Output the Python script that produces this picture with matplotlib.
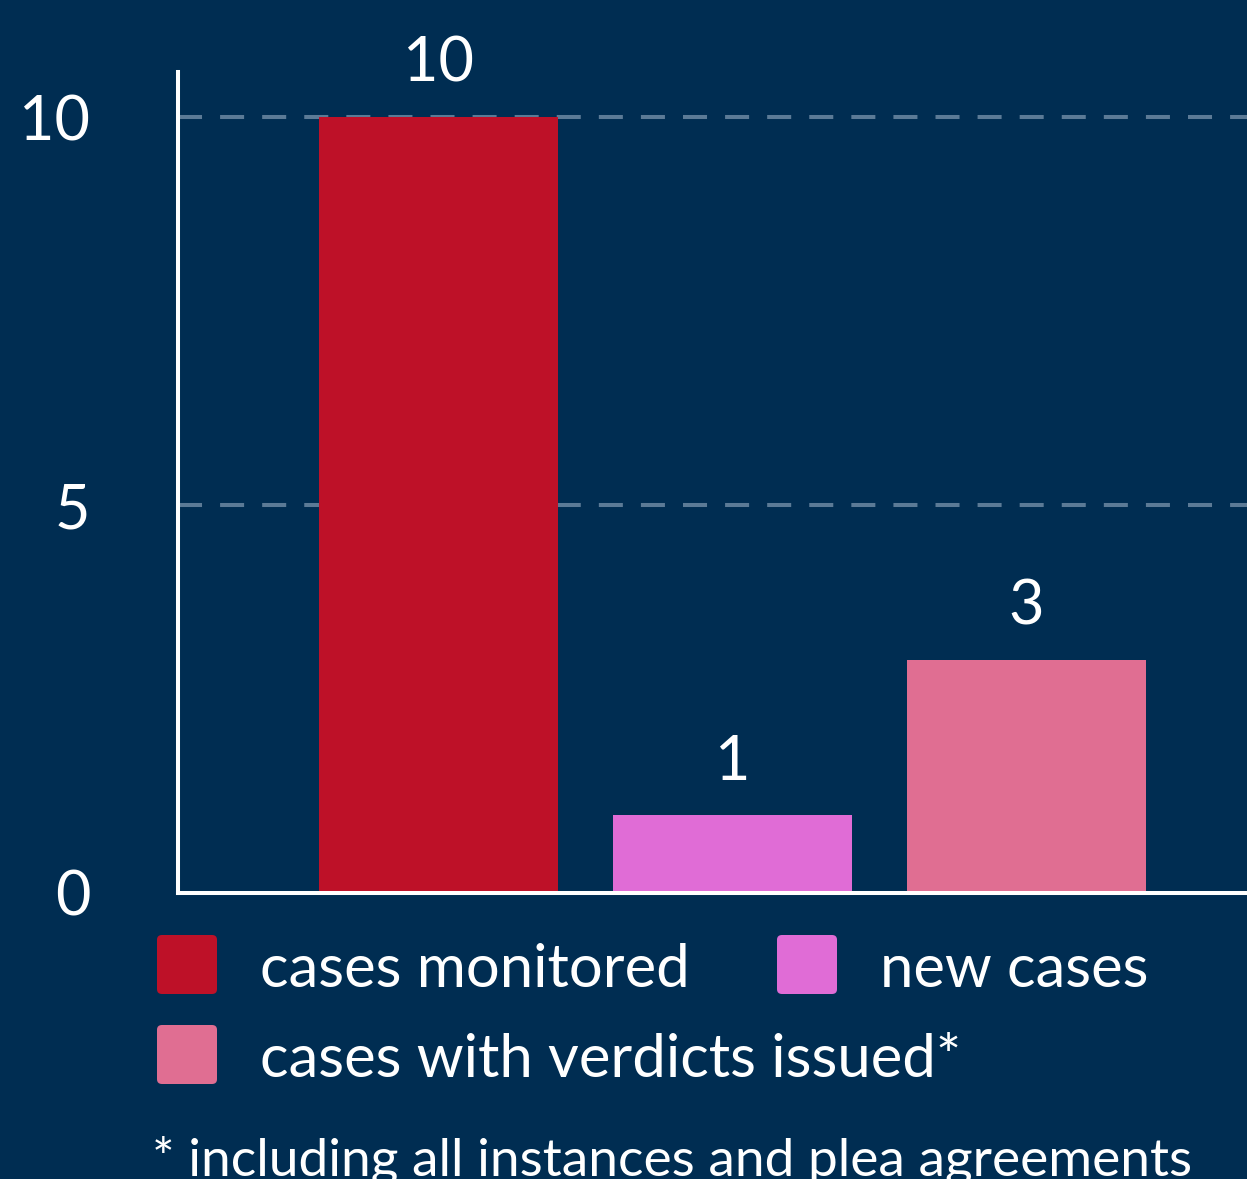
import matplotlib
matplotlib.use("Agg")
import matplotlib.pyplot as plt
from matplotlib.patches import FancyBboxPatch

categories = ["cases monitored", "new cases", "cases with verdicts issued*"]
values = [10, 1, 3]
colors = ["#BE1128", "#E06CD6", "#E06E92"]
yticks = [0, 5, 10]
footnote = "* including all instances and plea agreements"

BG = "#002D52"
W, H = 1247, 1179
plt.rcParams['font.family'] = ['Lato', 'DejaVu Sans']
plt.rcParams['lines.scale_dashes'] = False

fig = plt.figure(figsize=(W / 100, H / 100), dpi=100, facecolor=BG)
ax = fig.add_axes([178 / W, (H - 893) / H, 1 - 178 / W, (893 - 72) / H])
ax.set_facecolor(BG)

x = list(range(len(values)))
bars = ax.bar(x, values, width=0.813, color=colors, zorder=2)
ax.set_xlim(-0.886, 2.75)
ax.set_ylim(0.04, 10.58)

for xi, v in zip(x, values):
    ax.annotate(str(v), (xi, v), xytext=(0, 38), textcoords="offset points",
                ha="center", va="center", color="white", fontsize=44)

ax.set_yticks(yticks)
ax.set_yticklabels([str(t) for t in yticks])
ax.tick_params(axis="y", length=0, pad=63, labelsize=44, labelcolor="white")
ax.set_xticks([])
for t in yticks[1:]:
    ax.axhline(t, color="#5B7A96", lw=2.9, linestyle=(0, (17.3, 13)), zorder=1)

for s in ["top", "right"]:
    ax.spines[s].set_visible(False)
for s in ["left", "bottom"]:
    ax.spines[s].set_color("white")
    ax.spines[s].set_linewidth(2.9)

# legend
pos = [(157, 935, 260), (777, 935, 880), (157, 1025, 260)]
for (px, py, tx), lab, c in zip(pos, categories, colors):
    p = FancyBboxPatch((px / W, (H - py - 59) / H), 60 / W, 59 / H,
                       boxstyle="round,pad=0,rounding_size=0.004",
                       transform=fig.transFigure, facecolor=c, edgecolor="none")
    fig.patches.append(p)
    fig.text(tx / W, (H - py - 35) / H, lab, color="white", fontsize=43,
             ha="left", va="center")

fig.text(152 / W, (H - 1160) / H, footnote, color="white", fontsize=38.3,
         ha="left", va="center")

fig.savefig("out.png", dpi=100, facecolor=BG)
